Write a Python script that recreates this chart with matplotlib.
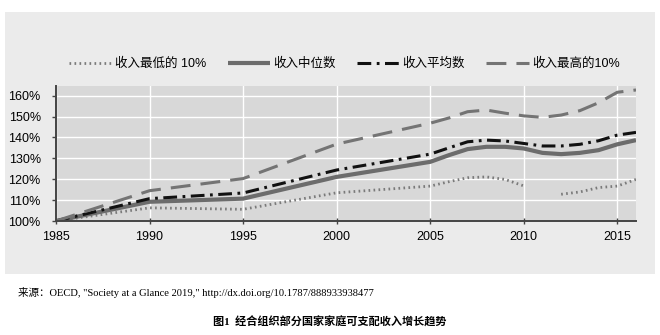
import matplotlib.pyplot as plt
import matplotlib.patches as mpatches
import numpy as np

plt.rcParams['font.family'] = ['Liberation Sans', 'Noto Sans CJK SC', 'DejaVu Sans']

years = [1985, 1990, 1995, 2000, 2005, 2006, 2007, 2008, 2009, 2010, 2011, 2012, 2013, 2014, 2015, 2016]
bottom10 = [100, 106.3, 105.6, 113.5, 116.7, 118.8, 120.7, 121.1, 119.9, 116.8, np.nan, 112.8, 113.9, 116.0, 116.7, 119.9]
median = [100, 109.2, 110.7, 121.1, 128.3, 131.5, 134.4, 135.5, 135.5, 134.7, 132.6, 132.0, 132.6, 133.9, 136.7, 138.7]
mean = [100, 110.7, 113.4, 124.4, 132.0, 135.0, 137.9, 138.7, 138.3, 137.1, 135.9, 135.9, 136.7, 138.4, 141.1, 142.4]
top10 = [100, 114.5, 120.3, 136.8, 146.8, 149.3, 152.3, 153.1, 151.6, 150.3, 149.6, 150.7, 152.8, 156.6, 161.6, 162.7]

labels = ['收入最低的 10%', '收入中位数', '收入平均数', '收入最高的10%']
yticks = [100, 110, 120, 130, 140, 150, 160]
xticks = [1985, 1990, 1995, 2000, 2005, 2010, 2015]

fig = plt.figure(figsize=(6.6, 3.35), dpi=100)
fig.patch.set_facecolor('white')

# light grey panel behind legend and chart
panel = mpatches.Rectangle((5 / 660, 1 - 274 / 335), 650 / 660, 262 / 335,
                           transform=fig.transFigure, facecolor='#ebebeb',
                           edgecolor='none', zorder=-10)
fig.patches.append(panel)

ax = fig.add_axes([56 / 660, 1 - 221 / 335, 580 / 660, 135 / 335])
ax.set_zorder(1)
ax.set_facecolor('#d8d8d8')

l1, = ax.plot(years, bottom10, color='#7a7a7a', lw=2.0, linestyle=(0, (0.6, 1.2)))
l2, = ax.plot(years, median, color='#6c6c6c', lw=3.0, solid_capstyle='butt')
l3, = ax.plot(years, mean, color='#111111', lw=2.2, linestyle=(0, (4.5, 1.8, 0.9, 1.8)))
l4, = ax.plot(years, top10, color='#747474', lw=2.2, linestyle=(0, (6.5, 3.3)))

ax.set_xlim(1985, 2016)
ax.set_ylim(100, 164.6)
ax.set_xticks(xticks)
ax.set_yticks(yticks)
ax.set_yticklabels([f'{v}%' for v in yticks])
ax.grid(True, color='white', lw=1.0)
ax.set_axisbelow(True)

for side in ['top', 'right']:
    ax.spines[side].set_visible(False)
for side in ['left', 'bottom']:
    ax.spines[side].set_color('#444444')
    ax.spines[side].set_linewidth(1.4)

ax.tick_params(axis='x', direction='inout', length=5, width=1, color='#444444',
               labelsize=9, pad=5)
ax.tick_params(axis='y', direction='out', length=3, width=1, color='#444444',
               labelsize=9, pad=8)

fig.legend([l1, l2, l3, l4], labels, loc='center', bbox_to_anchor=(0.522, 1 - 64 / 335),
           ncol=4, frameon=False, fontsize=9, handlelength=3.4, columnspacing=1.7,
           handletextpad=0.25)

fig.text(18 / 660, 1 - 293 / 335,
         '来源：OECD, "Society at a Glance 2019," http://dx.doi.org/10.1787/888933938477',
         family=['Liberation Serif', 'Noto Sans CJK SC'], fontsize=7.6, va='center')
fig.text(0.5, 1 - 322 / 335, '图1  经合组织部分国家家庭可支配收入增长趋势',
         family=['Liberation Serif', 'Noto Sans CJK SC'], fontsize=8, va='center',
         ha='center', weight='bold')

fig.savefig('out.png', dpi=100)
